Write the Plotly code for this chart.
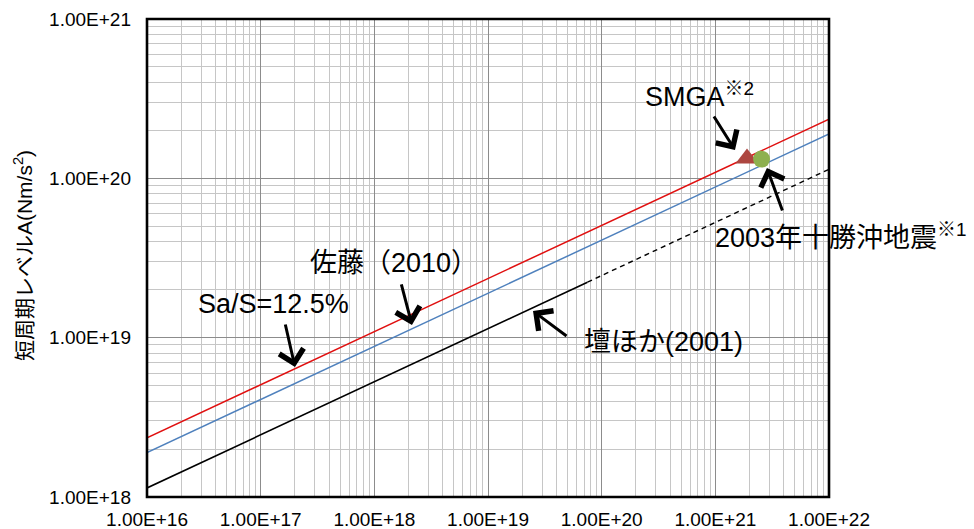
import plotly.graph_objects as go

# Seismic moment M0 (Nm) vs. short-period level A (Nm/s^2)
sa_x = [1e16, 1e22]
sa_y = [2.35e18, 2.35e20]            # Sa/S = 12.5%
sato_x = [1e16, 1e22]
sato_y = [1.9e18, 1.9e20]            # 佐藤(2010)
dan_x = [1e16, 7.5e19]
dan_y = [1.14e18, 2.23e19]           # 壇ほか(2001), fitted range
dan_ext_x = [7.5e19, 1e22]
dan_ext_y = [2.23e19, 1.14e20]       # 壇ほか(2001), extrapolated
smga_x = [1.9e21]
smga_y = [1.33e20]
tokachi_x = [2.55e21]
tokachi_y = [1.32e20]

x_tickvals = [1e16, 1e17, 1e18, 1e19, 1e20, 1e21, 1e22]
x_ticktext = ["1.00E+16", "1.00E+17", "1.00E+18", "1.00E+19",
              "1.00E+20", "1.00E+21", "1.00E+22"]
y_tickvals = [1e18, 1e19, 1e20, 1e21]
y_ticktext = ["1.00E+18", "1.00E+19", "1.00E+20", "1.00E+21"]

FONT = "Liberation Sans, Arial, 'Noto Sans CJK JP', sans-serif"

# minor gridlines at 2..9 within every decade
x_minor = [m * d for d in x_tickvals[:-1] for m in range(2, 10)]
y_minor = [m * d for d in y_tickvals[:-1] for m in range(2, 10)]

fig = go.Figure()
fig.add_trace(go.Scatter(x=dan_x, y=dan_y, mode="lines",
                         line=dict(color="black", width=1.6)))
fig.add_trace(go.Scatter(x=dan_ext_x, y=dan_ext_y, mode="lines",
                         line=dict(color="black", width=1.4, dash="5px,4px")))
fig.add_trace(go.Scatter(x=sato_x, y=sato_y, mode="lines",
                         line=dict(color="#4F81BD", width=1.5)))
fig.add_trace(go.Scatter(x=sa_x, y=sa_y, mode="lines",
                         line=dict(color="#E01010", width=1.5)))
fig.add_trace(go.Scatter(x=smga_x, y=smga_y, mode="markers",
                         marker=dict(symbol="triangle-up", size=20, color="#AD4640")))
fig.add_trace(go.Scatter(x=tokachi_x, y=tokachi_y, mode="markers",
                         marker=dict(symbol="circle", size=17, color="#8DB04F")))

grid_minor = "#c6c6c6"
grid_major = "#8c8c8c"
tick_font = dict(family=FONT, size=19, color="black")

fig.update_xaxes(type="log", range=[16, 22], tickmode="array",
                 tickvals=x_tickvals, ticktext=x_ticktext,
                 showgrid=True, gridcolor=grid_major, gridwidth=1,
                 minor=dict(tickmode="array", tickvals=x_minor, showgrid=True,
                            gridcolor=grid_minor, gridwidth=1),
                 ticks="", zeroline=False, showline=False, automargin=False,
                 tickfont=tick_font, ticklabelstandoff=9)
fig.update_yaxes(type="log", range=[18, 21], tickmode="array",
                 tickvals=y_tickvals, ticktext=y_ticktext,
                 showgrid=True, gridcolor=grid_major, gridwidth=1,
                 minor=dict(tickmode="array", tickvals=y_minor, showgrid=True,
                            gridcolor=grid_minor, gridwidth=1),
                 ticks="", zeroline=False, showline=False, automargin=False,
                 tickfont=tick_font, ticklabelstandoff=15)

# plot-area frame
fig.add_shape(type="rect", xref="paper", yref="paper", x0=0, y0=0, x1=1, y1=1,
              line=dict(color="black", width=2.6), layer="above")

ann_font = dict(family=FONT, size=27, color="black")
annotations = [
    dict(x=17.113, y=19.211, text="Sa/S=12.5%", xanchor="center"),
    dict(x=18.170, y=19.469, text="佐藤（2010）", xanchor="center"),
    dict(x=20.548, y=18.973, text="壇ほか(2001)", xanchor="center"),
    dict(x=20.364, y=20.523, text="SMGA<sup>※2</sup>", xanchor="left"),
    dict(x=20.979, y=19.638, text="2003年十勝沖地震<sup>※1</sup>", xanchor="left"),
]
for a in annotations:
    fig.add_annotation(xref="x", yref="y", showarrow=False, yanchor="middle",
                       font=ann_font, **a)

# pointer arrows: tip in data coordinates, tail offset in pixels
arrows = [
    (17.302, 18.816, -10, -44),
    (18.331, 19.080, -11, -42),
    (19.396, 19.167, 35, 26),
    (21.173, 20.178, -22, -35),
    (21.454, 20.065, 16, 44),
]
for x, y, ax, ay in arrows:
    fig.add_annotation(xref="x", yref="y", x=x, y=y, ax=ax, ay=ay, text="",
                       showarrow=True, arrowhead=4, arrowsize=1.6,
                       arrowwidth=3, arrowcolor="black")

# y-axis title
fig.add_annotation(xref="paper", yref="paper", x=-0.1818, y=0.504,
                   text="短周期レベルA(Nm/s<sup>2</sup>)", textangle=-90,
                   showarrow=False, xanchor="center", yanchor="middle",
                   font=dict(family=FONT, size=21, color="black"))

fig.update_layout(width=974, height=529, showlegend=False,
                  margin=dict(l=147, r=145, t=19, b=32),
                  paper_bgcolor="white", plot_bgcolor="white")

fig.write_html("out.html")
